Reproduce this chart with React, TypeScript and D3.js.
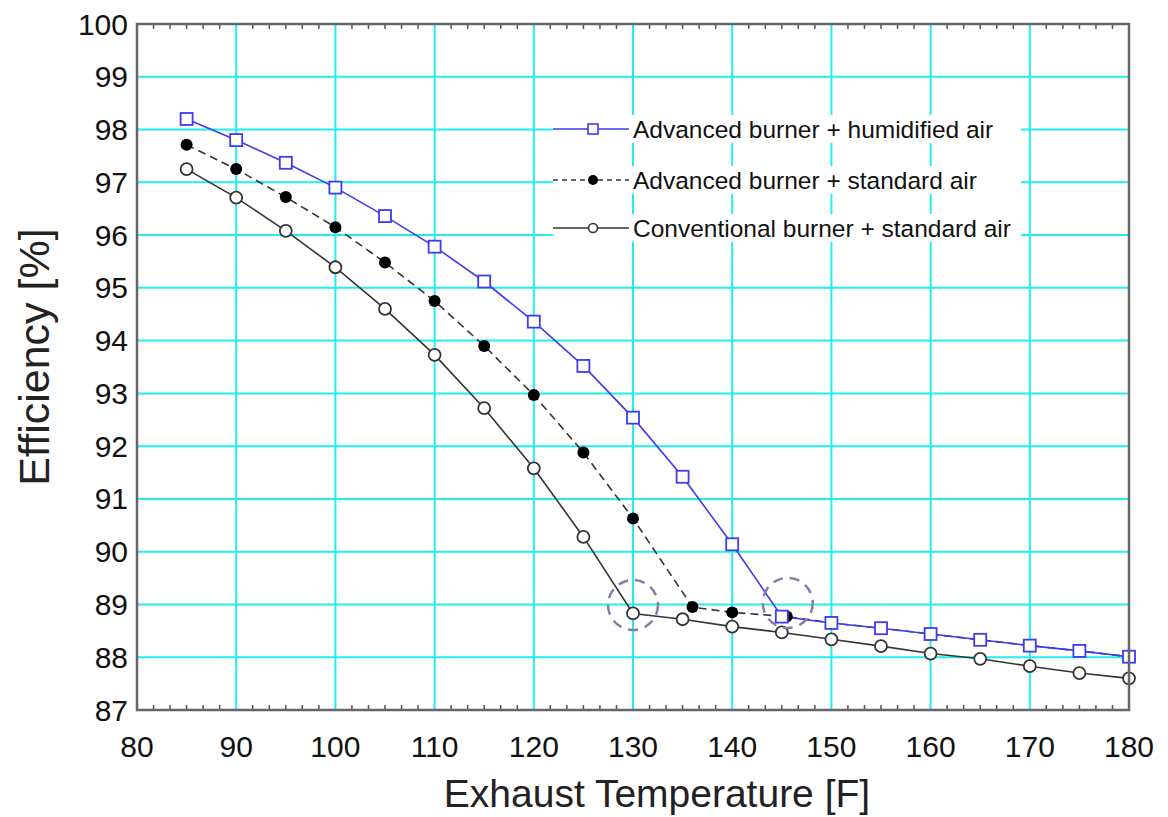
import React from 'react';
import * as d3 from 'd3';

// x values (exhaust temperature, F)
const temps = [85, 90, 95, 100, 105, 110, 115, 120, 125, 130, 135, 140, 145, 150, 155, 160, 165, 170, 175, 180];
const advHumidified = [98.2, 97.8, 97.37, 96.9, 96.36, 95.78, 95.12, 94.36, 93.52, 92.54, 91.42, 90.14, 88.77, 88.65, 88.55, 88.44, 88.33, 88.22, 88.12, 88.01];
const conventional = [97.25, 96.71, 96.08, 95.39, 94.6, 93.73, 92.72, 91.58, 90.28, 88.83, 88.72, 88.58, 88.47, 88.34, 88.21, 88.07, 87.97, 87.83, 87.7, 87.6];
// the standard-air series has its own x positions (knee sits a bit right of 135)
const advStdTemps = [85, 90, 95, 100, 105, 110, 115, 120, 125, 130, 136, 140, 145.5, 150, 155, 160, 165, 170, 175, 180];
const advStandard = [97.71, 97.25, 96.72, 96.15, 95.48, 94.75, 93.9, 92.97, 91.88, 90.63, 88.95, 88.85, 88.77, 88.65, 88.55, 88.44, 88.33, 88.22, 88.12, 88.01];

const xTicks = [80, 90, 100, 110, 120, 130, 140, 150, 160, 170, 180];
const yTicks = [87, 88, 89, 90, 91, 92, 93, 94, 95, 96, 97, 98, 99, 100];

// dashed highlight circles (x, y)
const highlightX = [130, 145.6];
const highlightY = [88.99, 89.03];

const legendLabels = [
  'Advanced burner + humidified air',
  'Advanced burner + standard air',
  'Conventional burner + standard air',
];

const W = 1168;
const H = 817;
const left = 137;
const right = 1129;
const top = 24;
const bottom = 710;

const BLUE = '#3c3cf0';
const DARK = '#333333';
const GRID = '#22eeee';
const FONT = 'Arial, "Liberation Sans", Helvetica, sans-serif';

export default function App() {
  const x = d3.scaleLinear().domain([80, 180]).range([left, right]);
  const y = d3.scaleLinear().domain([87, 100]).range([bottom, top]);

  const line = d3
    .line<[number, number]>()
    .x((d) => x(d[0]))
    .y((d) => y(d[1]));

  const blueData: [number, number][] = temps.map((t, i) => [t, advHumidified[i]]);
  const convData: [number, number][] = temps.map((t, i) => [t, conventional[i]]);
  const stdData: [number, number][] = advStdTemps.map((t, i) => [t, advStandard[i]]);

  // minor ticks: 5 between each pair of majors
  const minor: number[] = [];
  for (let i = 0; i < xTicks.length - 1; i++) {
    const a = xTicks[i];
    const b = xTicks[i + 1];
    for (let k = 1; k < 6; k++) minor.push(a + ((b - a) * k) / 6);
  }

  const legendY = [129, 180, 228];
  const legX0 = 553;
  const legX1 = 629;
  const legMid = 593;

  return (
    <svg
      width={W}
      height={H}
      style={{ position: 'absolute', left: 0, top: 0, background: '#fff' }}
      fontFamily={FONT}
    >
      <rect x={0} y={0} width={W} height={H} fill="#fff" />

      {/* grid */}
      {xTicks.slice(1, -1).map((t) => (
        <line key={'gx' + t} x1={x(t)} x2={x(t)} y1={top} y2={bottom} stroke={GRID} strokeWidth={2} />
      ))}
      {yTicks.slice(1, -1).map((t) => (
        <line key={'gy' + t} x1={left} x2={right} y1={y(t)} y2={y(t)} stroke={GRID} strokeWidth={2} />
      ))}

      {/* series lines */}
      <path d={line(convData) || ''} fill="none" stroke={DARK} strokeWidth={1.6} />
      <path d={line(stdData) || ''} fill="none" stroke={DARK} strokeWidth={1.6} strokeDasharray="8 5" />
      <path d={line(blueData) || ''} fill="none" stroke={BLUE} strokeWidth={1.6} />

      {/* markers */}
      {convData.map((d, i) => (
        <circle key={'c' + i} cx={x(d[0])} cy={y(d[1])} r={6} fill="#fff" stroke={DARK} strokeWidth={1.8} />
      ))}
      {stdData.map((d, i) => (
        <circle key={'s' + i} cx={x(d[0])} cy={y(d[1])} r={6} fill="#000" />
      ))}
      {blueData.map((d, i) => (
        <rect
          key={'b' + i}
          x={x(d[0]) - 6}
          y={y(d[1]) - 6}
          width={12}
          height={12}
          fill="#fff"
          stroke={BLUE}
          strokeWidth={1.8}
        />
      ))}

      {/* highlight circles */}
      {highlightX.map((hx, i) => (
        <circle
          key={'h' + i}
          cx={x(hx)}
          cy={y(highlightY[i])}
          r={25}
          fill="none"
          stroke="#8a7aaa"
          strokeWidth={2.5}
          strokeDasharray="10 7"
        />
      ))}

      {/* legend */}
      {legendLabels.map((lab, i) => {
        const ly = legendY[i];
        return (
          <g key={'l' + i}>
            <rect x={legX0} y={ly - 14} width={468} height={28} fill="#fff" />
            {i === 0 && (
              <>
                <line x1={legX0} x2={legX1} y1={ly} y2={ly} stroke={BLUE} strokeWidth={1.6} />
                <rect x={legMid - 5} y={ly - 5} width={10} height={10} fill="#fff" stroke={BLUE} strokeWidth={1.6} />
              </>
            )}
            {i === 1 && (
              <>
                <line x1={legX0} x2={legX1} y1={ly} y2={ly} stroke={DARK} strokeWidth={1.6} strokeDasharray="5 4" />
                <circle cx={legMid} cy={ly} r={5} fill="#000" />
              </>
            )}
            {i === 2 && (
              <>
                <line x1={legX0} x2={legX1} y1={ly} y2={ly} stroke={DARK} strokeWidth={1.6} />
                <circle cx={legMid} cy={ly} r={4.5} fill="#fff" stroke={DARK} strokeWidth={1.6} />
              </>
            )}
            <text x={633} y={ly + 8.5} fontSize={24.5} fill="#111">
              {lab}
            </text>
          </g>
        );
      })}

      {/* minor ticks top and bottom */}
      {minor.map((t, i) => (
        <g key={'m' + i}>
          <line x1={x(t)} x2={x(t)} y1={bottom} y2={bottom - 5} stroke="#555" strokeWidth={1.5} />
          <line x1={x(t)} x2={x(t)} y1={top} y2={top + 5} stroke="#555" strokeWidth={1.5} />
        </g>
      ))}

      {/* frame */}
      <rect x={left} y={top} width={right - left} height={bottom - top} fill="none" stroke="#666" strokeWidth={2.5} />

      {/* tick labels */}
      {yTicks.map((t) => (
        <text key={'yl' + t} x={128} y={y(t)} dy="0.35em" textAnchor="end" fontSize={30} fill="#111">
          {t}
        </text>
      ))}
      {xTicks.map((t) => (
        <text key={'xl' + t} x={x(t)} y={757} textAnchor="middle" fontSize={30} fill="#111">
          {t}
        </text>
      ))}

      {/* axis titles */}
      <text x={657} y={807} textAnchor="middle" fontSize={39} fill="#222">
        Exhaust Temperature [F]
      </text>
      <text
        transform={`translate(49, ${357}) rotate(-90)`}
        textAnchor="middle"
        fontSize={43}
        fill="#222"
      >
        Efficiency [%]
      </text>
    </svg>
  );
}
